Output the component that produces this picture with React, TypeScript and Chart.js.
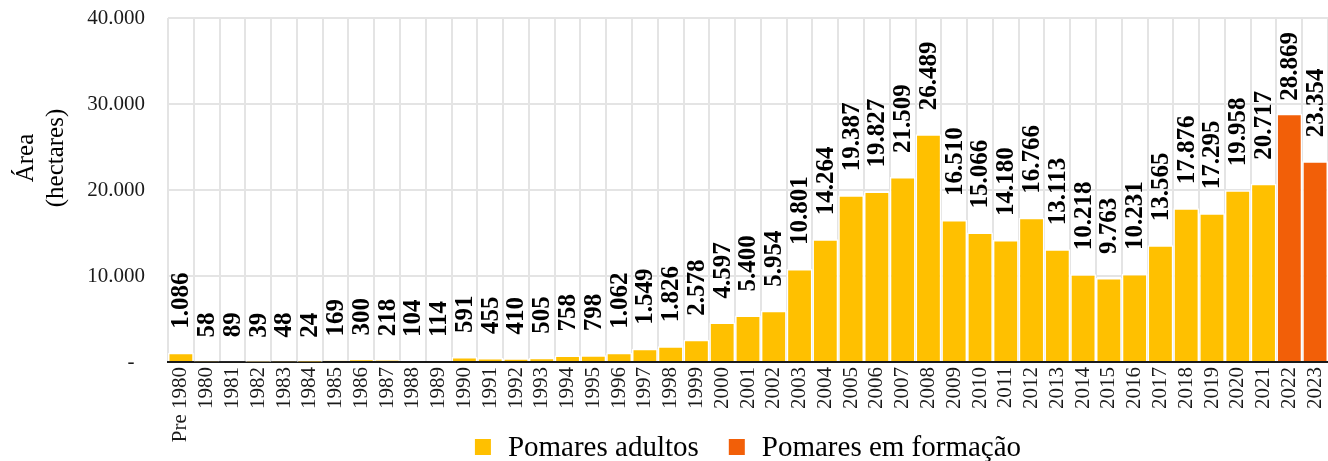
import React, { useEffect, useRef } from "react";
import { Chart, registerables } from "chart.js";

Chart.register(...registerables);

const categories: string[] = [
  "Pre 1980", "1980", "1981", "1982", "1983", "1984", "1985", "1986", "1987", "1988", "1989",
  "1990", "1991", "1992", "1993", "1994", "1995", "1996", "1997", "1998", "1999",
  "2000", "2001", "2002", "2003", "2004", "2005", "2006", "2007", "2008", "2009",
  "2010", "2011", "2012", "2013", "2014", "2015", "2016", "2017", "2018", "2019",
  "2020", "2021", "2022", "2023",
];

// Pomares adultos: Pre 1980 .. 2021
const adultos: number[] = [
  1086, 58, 89, 39, 48, 24, 169, 300, 218, 104, 114,
  591, 455, 410, 505, 758, 798, 1062, 1549, 1826, 2578,
  4597, 5400, 5954, 10801, 14264, 19387, 19827, 21509, 26489, 16510,
  15066, 14180, 16766, 13113, 10218, 9763, 10231, 13565, 17876, 17295,
  19958, 20717,
];

// Pomares em formação: 2022 .. 2023
const formacao: number[] = [28869, 23354];

const yTicks: number[] = [0, 10000, 20000, 30000, 40000];

const seriesNames: string[] = ["Pomares adultos", "Pomares em formação"];
const seriesColors: string[] = ["#FFC000", "#F25F08"];

const FONT = '"Liberation Serif", "Times New Roman", serif';

function fmt(n: number): string {
  return Math.round(n).toString().replace(/\B(?=(\d{3})+(?!\d))/g, ".");
}

const labelPlugin = {
  id: "barLabels",
  afterDatasetsDraw(chart: any) {
    const ctx = chart.ctx;
    ctx.save();
    ctx.font = `bold 25px ${FONT}`;
    ctx.fillStyle = "#000";
    ctx.textAlign = "left";
    ctx.textBaseline = "middle";
    chart.data.datasets.forEach((ds: any, i: number) => {
      const meta = chart.getDatasetMeta(i);
      meta.data.forEach((el: any, j: number) => {
        const v = ds.data[j];
        if (v === null || v === undefined) return;
        const txt = fmt(v);
        const w = ctx.measureText(txt).width;
        let bottom = el.y - 24;
        let top = bottom - w;
        const minTop = chart.chartArea.top + 14;
        if (top < minTop) {
          top = minTop;
          bottom = top + w;
        }
        ctx.save();
        ctx.translate(el.x + 1, bottom);
        ctx.rotate(-Math.PI / 2);
        ctx.fillText(txt, 0, 0);
        ctx.restore();
      });
    });
    ctx.restore();
  },
};

const titleLegendPlugin = {
  id: "titleLegend",
  afterDraw(chart: any) {
    const ctx = chart.ctx;
    const area = chart.chartArea;
    ctx.save();
    // y-axis title
    ctx.fillStyle = "#000";
    ctx.font = `25px ${FONT}`;
    ctx.textAlign = "center";
    ctx.textBaseline = "alphabetic";
    const cy = 158;
    ctx.save();
    ctx.translate(33, cy);
    ctx.rotate(-Math.PI / 2);
    ctx.fillText("Área", 0, 0);
    ctx.restore();
    ctx.save();
    ctx.translate(63, cy);
    ctx.rotate(-Math.PI / 2);
    ctx.fillText("(hectares)", 0, 0);
    ctx.restore();

    // legend
    ctx.font = `29px ${FONT}`;
    const box = 16;
    const gapText = 17;
    const gapItem = 30;
    const names = chart.data.datasets.map((d: any) => d.label);
    const widths = names.map((n: string) => box + gapText + ctx.measureText(n).width);
    const total = widths.reduce((a: number, b: number) => a + b, 0) + gapItem * (names.length - 1);
    let x = (area.left + area.right) / 2 - total / 2;
    const yMid = 447;
    ctx.textAlign = "left";
    ctx.textBaseline = "middle";
    names.forEach((n: string, i: number) => {
      ctx.fillStyle = chart.data.datasets[i].backgroundColor;
      ctx.fillRect(x, yMid - box / 2, box, box);
      ctx.fillStyle = "#000";
      ctx.fillText(n, x + box + gapText, yMid + 1);
      x += widths[i] + gapItem;
    });
    ctx.restore();
  },
};

export default function App() {
  const ref = useRef<HTMLCanvasElement | null>(null);

  useEffect(() => {
    document.body.style.margin = "0";
    const canvas = ref.current;
    if (!canvas) return;
    const adultData: (number | null)[] = categories.map((_, i) => (i < adultos.length ? adultos[i] : null));
    const formData: (number | null)[] = categories.map((_, i) =>
      i >= adultos.length ? formacao[i - adultos.length] : null
    );

    const chart = new Chart(canvas, {
      type: "bar",
      data: {
        labels: categories,
        datasets: [
          {
            label: seriesNames[0],
            data: adultData,
            backgroundColor: seriesColors[0],
            borderColor: "#ffffff",
            borderWidth: 1.5,
            borderSkipped: "start",
            barPercentage: 1,
            categoryPercentage: 1,
            inflateAmount: 0,
          },
          {
            label: seriesNames[1],
            data: formData,
            backgroundColor: seriesColors[1],
            borderColor: "#ffffff",
            borderWidth: 1.5,
            borderSkipped: "start",
            barPercentage: 1,
            categoryPercentage: 1,
            inflateAmount: 0,
          },
        ],
      },
      options: {
        responsive: false,
        animation: false,
        devicePixelRatio: 1,
        layout: { padding: { top: 18, left: 0, right: 0, bottom: 0 } },
        plugins: {
          legend: { display: false },
          tooltip: { enabled: false },
          title: { display: false },
        },
        scales: {
          x: {
            stacked: true,
            offset: true,
            grid: {
              offset: true,
              color: "#e4e4e4",
              lineWidth: 2,
              drawTicks: false,
            },
            border: { display: true, color: "#1a1a1a", width: 2 },
            ticks: {
              autoSkip: false,
              maxRotation: 90,
              minRotation: 90,
              padding: 5,
              color: "#1a1a1a",
              font: { family: FONT, size: 21 },
            },
            afterFit(scale: any) {
              scale.height = 99;
              scale.paddingLeft = 0;
              scale.paddingRight = 0;
            },
          },
          y: {
            stacked: true,
            min: 0,
            max: 40000,
            afterBuildTicks(scale: any) {
              scale.ticks = yTicks.map((v) => ({ value: v }));
            },
            grid: { color: "#e4e4e4", lineWidth: 2, drawTicks: false },
            border: { display: false },
            ticks: {
              padding: 23,
              color: "#1a1a1a",
              font: { family: FONT, size: 21 },
              callback: (v: any) => (Number(v) === 0 ? "-  " : fmt(Number(v))),
            },
            afterFit(scale: any) {
              scale.width = 168;
              scale.paddingTop = 0;
              scale.paddingBottom = 0;
            },
          },
        },
      },
      plugins: [labelPlugin, titleLegendPlugin],
    });
    return () => chart.destroy();
  }, []);

  return (
    <div style={{ width: 1328, height: 461 }}>
      <canvas ref={ref} width={1328} height={461} style={{ display: "block" }} />
    </div>
  );
}
